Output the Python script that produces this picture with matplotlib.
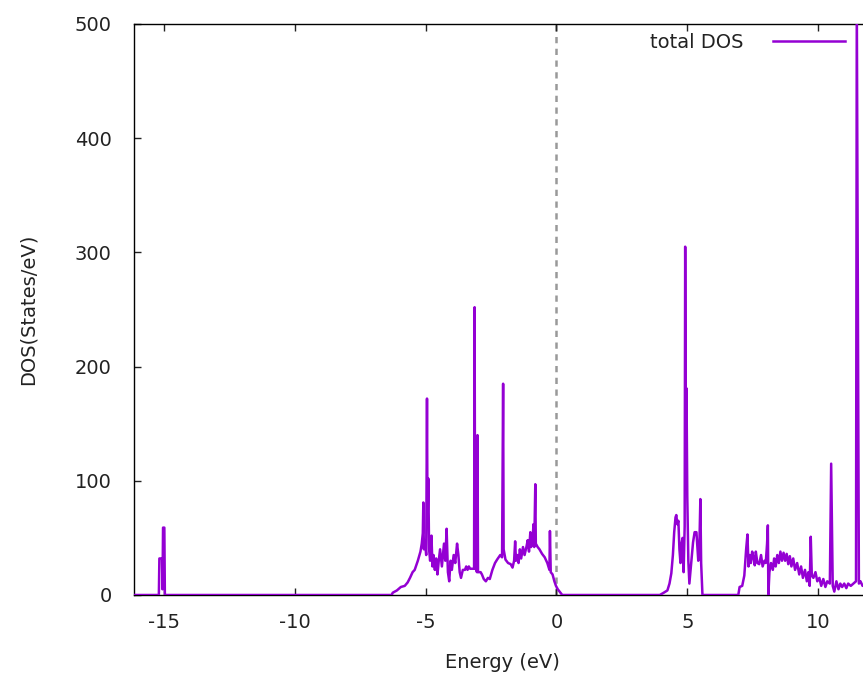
import matplotlib
matplotlib.use("Agg")
import matplotlib.pyplot as plt

plt.rcParams["axes.unicode_minus"] = False

# ---- data (energy in eV, DOS in states/eV) ----
core_energy = [-16.15, -15.2, -15.18, -15.08, -15.06, -15.04, -14.99, -14.97, -6.3]
core_dos = [0, 0, 32, 32, 5, 59, 59, 0, 0]

valence_energy = [-6.26, -6.1, -5.95, -5.8, -5.69, -5.6, -5.5, -5.42, -5.3, -5.2, -5.15, -5.11,
                  -5.09, -5.07, -5.03, -4.98, -4.95, -4.93, -4.90, -4.87, -4.83, -4.78, -4.74,
                  -4.70, -4.65, -4.60, -4.55, -4.50, -4.45, -4.38, -4.30, -4.25, -4.20, -4.15,
                  -4.10, -4.05, -4.00, -3.93, -3.87, -3.80, -3.75, -3.70, -3.65, -3.58, -3.50,
                  -3.45, -3.40, -3.35, -3.30, -3.15, -3.13, -3.11, -3.04, -3.02, -3.00, -2.9,
                  -2.85, -2.78, -2.70, -2.62, -2.55, -2.45, -2.35, -2.27, -2.15, -2.08, -2.06,
                  -2.04, -2.02, -1.95, -1.85, -1.75, -1.68, -1.62, -1.58, -1.55, -1.50, -1.45,
                  -1.40, -1.35, -1.28, -1.22, -1.15, -1.10, -1.05, -1.00, -0.97, -0.92, -0.88,
                  -0.85, -0.81, -0.79, -0.72, -0.65, -0.55, -0.45, -0.35, -0.27, -0.25, -0.22,
                  -0.15, -0.08, -0.02, 0.05, 0.12, 0.22, 3.95]
valence_dos = [2, 4, 7, 8, 11, 15, 20, 22, 30, 38, 45, 54,
               81, 40, 48, 35, 172, 60, 102, 40, 30, 52, 25,
               35, 22, 32, 18, 30, 40, 25, 45, 30, 58, 20,
               12, 30, 22, 35, 28, 45, 35, 20, 15, 22, 22,
               25, 22, 25, 23, 23, 252, 25, 20, 140, 20, 20,
               18, 14, 12, 15, 14, 22, 28, 31, 35, 33, 110,
               185, 40, 31, 28, 27, 24, 30, 47, 30, 35, 28,
               40, 32, 42, 35, 42, 48, 38, 55, 42, 45, 62,
               42, 97, 45, 42, 40, 36, 33, 28, 22, 56, 20,
               18, 12, 8, 5, 3, 0, 0]

cond1_energy = [4.1, 4.24, 4.32, 4.39, 4.45, 4.50, 4.55, 4.58, 4.62, 4.66, 4.70, 4.74, 4.78,
                4.82, 4.86, 4.90, 4.92, 4.95, 4.97, 5.0, 5.04, 5.08, 5.13, 5.18, 5.22, 5.28,
                5.35, 5.42, 5.46, 5.50, 5.53, 5.58, 6.95]
cond1_dos = [2, 4, 10, 19, 35, 55, 68, 70, 62, 65, 40, 28, 45,
             50, 20, 60, 305, 100, 181, 86, 30, 10, 23, 35, 46, 55,
             55, 30, 40, 84, 28, 0, 0]

cond2_energy = [7.0, 7.1, 7.18, 7.25, 7.30, 7.34, 7.38, 7.43, 7.48, 7.53, 7.58, 7.62, 7.68,
                7.75, 7.82, 7.88, 7.95, 8.0, 8.05, 8.08, 8.10, 8.14, 8.20, 8.27, 8.32, 8.38,
                8.44, 8.50, 8.56, 8.62, 8.68, 8.74, 8.80, 8.86, 8.92, 8.98, 9.05, 9.12, 9.20,
                9.28, 9.35, 9.42, 9.50, 9.57, 9.63, 9.68, 9.72, 9.76, 9.82, 9.90, 9.97, 10.05,
                10.12, 10.2, 10.28, 10.35, 10.45, 10.50, 10.53, 10.56, 10.62, 10.70, 10.78,
                10.85, 10.92, 11.0, 11.08, 11.15, 11.25, 11.35, 11.45, 11.48, 11.52, 11.56,
                11.62, 11.7, 12.0]
cond2_dos = [7, 8, 17, 40, 53, 25, 35, 28, 38, 33, 26, 38, 28,
             27, 35, 25, 30, 28, 45, 61, 0, 20, 28, 22, 32, 25,
             35, 28, 38, 30, 37, 30, 36, 27, 34, 25, 32, 22, 28,
             18, 25, 15, 22, 12, 20, 8, 51, 17, 15, 20, 12, 15,
             8, 14, 7, 12, 10, 115, 62, 8, 3, 12, 5,
             10, 7, 10, 6, 10, 8, 10, 12, 520, 256, 10,
             12, 8, 10]

energy = core_energy + valence_energy + cond1_energy + cond2_energy
dos = core_dos + valence_dos + cond1_dos + cond2_dos

x_ticks = [-15, -10, -5, 0, 5, 10]
y_ticks = [0, 100, 200, 300, 400, 500]
fermi_level = 0.0

# ---- figure ----
W, H = 863, 675
fig = plt.figure(figsize=(W / 100, H / 100), dpi=100)
left, right, top, bottom = 134, 870.4, 24, 595
ax = fig.add_axes([left / W, (H - bottom) / H, (right - left) / W, (bottom - top) / H])

ax.axvline(fermi_level, color="#999999", lw=1.8, ls=(0, (2.5, 2.2)), zorder=1)
ax.plot(energy, dos, color="#9400d3", lw=1.8, label="total DOS", zorder=3)

ax.set_xlim(-16.15, 12.0)
ax.set_ylim(0, 500)
ax.set_xticks(x_ticks)
ax.set_yticks(y_ticks)
ax.tick_params(direction="in", length=5, width=1, top=True, right=True,
               labelsize=14, colors="#222222")
ax.tick_params(axis="x", pad=13)
ax.tick_params(axis="y", pad=16)
for s in ax.spines.values():
    s.set_linewidth(1.0)
    s.set_color("black")

ax.set_xlabel("Energy (eV)", fontsize=14, color="#222222", labelpad=15)
ax.set_ylabel("DOS(States/eV)", fontsize=14, color="#222222", labelpad=27)

leg = ax.legend(loc="upper right", bbox_to_anchor=(845 / W, 1 - 33 / H),
                bbox_transform=fig.transFigure, frameon=False, markerfirst=False,
                fontsize=14, handlelength=3.7, handletextpad=1.5,
                borderpad=0, borderaxespad=0)
for t in leg.get_texts():
    t.set_color("#222222")

fig.savefig("out.png", dpi=100)
